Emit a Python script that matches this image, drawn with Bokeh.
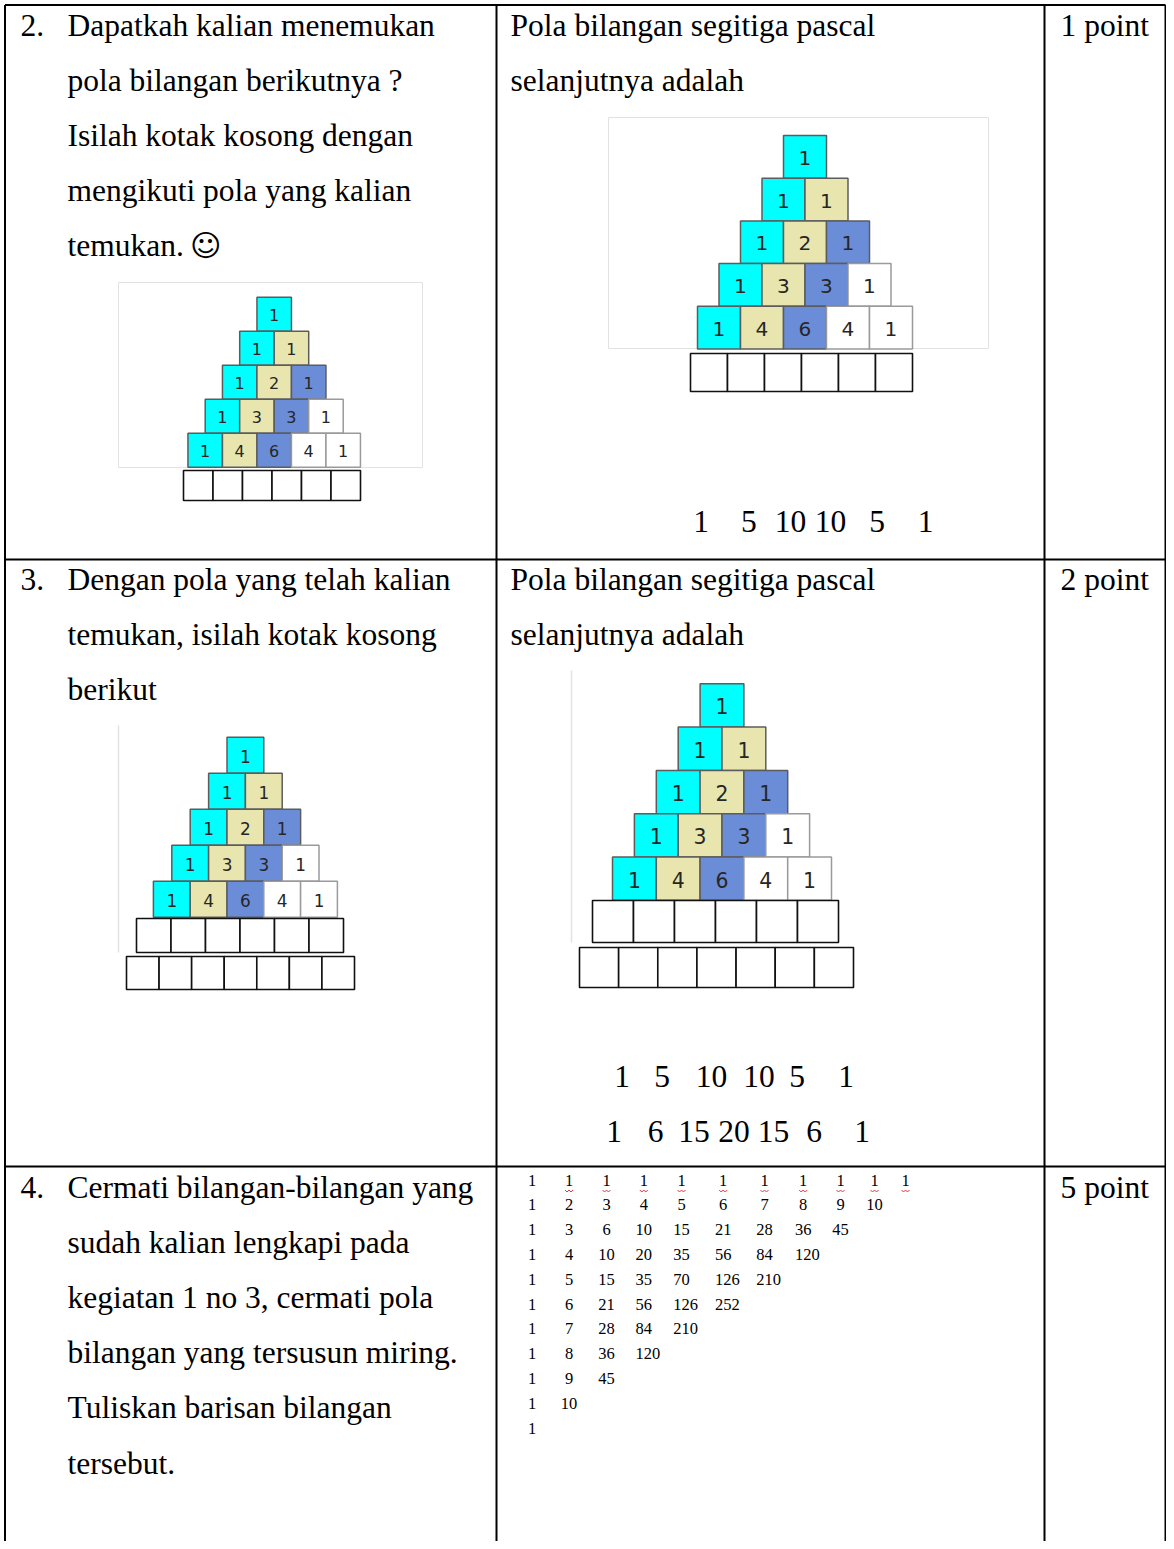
from bokeh.plotting import figure
from bokeh.models import Range1d, ColumnDataSource
from bokeh.core.properties import value
from bokeh.embed import file_html
from bokeh.resources import INLINE

# ---------------- data ----------------
question_numbers = ["2.", "3.", "4."]
question_lines = [
    ["Dapatkah kalian menemukan", "pola bilangan berikutnya ?",
     "Isilah kotak kosong dengan", "mengikuti pola yang kalian", "temukan."],
    ["Dengan pola yang telah kalian", "temukan, isilah kotak kosong", "berikut"],
    ["Cermati bilangan-bilangan yang", "sudah kalian lengkapi pada",
     "kegiatan 1 no 3, cermati pola", "bilangan yang tersusun miring.",
     "Tuliskan barisan bilangan", "tersebut."],
]
answer_heading = ["Pola bilangan segitiga pascal", "selanjutnya adalah"]
point_labels = ["1 point", "2 point", "5 point"]
smiley = "\u263A"

pascal_rows = [[1], [1, 1], [1, 2, 1], [1, 3, 3, 1], [1, 4, 6, 4, 1]]
answer_row5 = [1, 5, 10, 10, 5, 1]
answer_row6 = [1, 6, 15, 20, 15, 6, 1]

diagonal_rows = [
    [1, 1, 1, 1, 1, 1, 1, 1, 1, 1, 1],
    [1, 2, 3, 4, 5, 6, 7, 8, 9, 10],
    [1, 3, 6, 10, 15, 21, 28, 36, 45],
    [1, 4, 10, 20, 35, 56, 84, 120],
    [1, 5, 15, 35, 70, 126, 210],
    [1, 6, 21, 56, 126, 252],
    [1, 7, 28, 84, 210],
    [1, 8, 36, 120],
    [1, 9, 45],
    [1, 10],
    [1],
]

cell_colors = ["#00FFFF", "#E8E6AE", "#6B8DD8", "#FFFFFF", "#FFFFFF"]

# ---------------- layout ----------------
W, H = 1166, 1541
p = figure(width=W, height=H, x_range=Range1d(0, W), y_range=Range1d(H, 0),
           x_axis_type=None, y_axis_type=None, output_backend="svg",
           toolbar_location=None, min_border=0)
p.outline_line_color = None
p.background_fill_color = "white"
p.border_fill_color = "white"

SERIF = value("Liberation Serif")
BODY_FS = "31.5px"
LINE_STEP = 55.2

col_lines = [4.5, 496, 1044, 1165]
row_tops = [4.5, 559, 1166]
p.segment(x0=col_lines, y0=[4.5] * 4, x1=col_lines, y1=[1560] * 4,
          line_color="black", line_width=2)
p.segment(x0=[4.5] * 3, y0=row_tops, x1=[1165] * 3, y1=row_tops,
          line_color="black", line_width=2)

first_line = [24.5, 578.5, 1186.5]
tx, ty, tt = [], [], []
for i, lines in enumerate(question_lines):
    tx.append(20); ty.append(first_line[i]); tt.append(question_numbers[i])
    for j, s in enumerate(lines):
        tx.append(67); ty.append(first_line[i] + j * LINE_STEP); tt.append(s)
    tx.append(1060); ty.append(first_line[i]); tt.append(point_labels[i])
for i in range(2):
    for j, s in enumerate(answer_heading):
        tx.append(510); ty.append(first_line[i] + j * LINE_STEP); tt.append(s)
p.text(x=tx, y=ty, text=tt, text_font=SERIF, text_font_size=BODY_FS,
       text_baseline="alphabetic", text_align="left", text_color="black")

# smiley after "temukan."
p.text(x=[205.5], y=[245], text=[smiley], text_font=value("DejaVu Sans"),
       text_font_size="30px", text_baseline="middle", text_align="center",
       text_color="black")

# answers
ans_sets = [
    (answer_row5, [700.7, 748.3, 790, 830, 876.7, 925], 520.5),
    (answer_row5, [621.7, 661.7, 711.0, 758.5, 796.7, 845.5], 1076),
    (answer_row6, [613.5, 655, 693.5, 733.5, 773, 813.5, 861.5], 1131),
]
ax, ay, at = [], [], []
for vals, xs, yb in ans_sets:
    for v, x in zip(vals, xs):
        ax.append(x); ay.append(yb); at.append(str(v))
p.text(x=ax, y=ay, text=at, text_font=SERIF, text_font_size=BODY_FS,
       text_baseline="alphabetic", text_align="center", text_color="black")


def draw_frame(l, r, t, b, full):
    if full:
        p.quad(left=[l], right=[r], top=[t], bottom=[b], fill_color="white",
               line_color="#E2E2E2", line_width=1)
    else:
        p.segment(x0=[l], y0=[t], x1=[l], y1=[b], line_color="#E2E2E2", line_width=1.5)


def draw_pyramid(cx, top, cw, ch):
    L, R, T, B, F, LC = [], [], [], [], [], []
    nx, ny, nt = [], [], []
    for r, row in enumerate(pascal_rows):
        x0 = cx - len(row) * cw / 2
        for c, v in enumerate(row):
            L.append(x0 + c * cw); R.append(x0 + (c + 1) * cw)
            T.append(top + r * ch); B.append(top + (r + 1) * ch)
            F.append(cell_colors[c])
            LC.append("#5C5C5C" if c < 3 else "#9A9A9A")
            nx.append(x0 + (c + 0.5) * cw); ny.append(top + (r + 0.5) * ch + 1)
            nt.append(str(v))
    src = ColumnDataSource(dict(l=L, r=R, t=T, b=B, f=F, lc=LC))
    p.quad(left="l", right="r", top="t", bottom="b", fill_color="f",
           line_color="lc", line_width=1.5, source=src)
    p.text(x=nx, y=ny, text=nt, text_font=value("DejaVu Sans"),
           text_font_size="%.1fpx" % (ch * 0.47), text_baseline="middle",
           text_align="center", text_color="#262626")


def draw_blank_row(x0, x1, y0, y1, n):
    w = (x1 - x0) / n
    p.quad(left=[x0 + k * w for k in range(n)], right=[x0 + (k + 1) * w for k in range(n)],
           top=[y0] * n, bottom=[y1] * n, fill_color="white",
           line_color="#111111", line_width=1.6)


# pyramid 1 (question 2)
draw_frame(118, 422, 282, 467, True)
draw_pyramid(273.7, 296.7, 34.5, 34.0)
draw_blank_row(183, 360, 470, 500, 6)

# pyramid 2 (answer 2)
draw_frame(608, 988, 117, 348, True)
draw_pyramid(804.5, 135, 43, 42.7)
draw_blank_row(690, 912, 353, 391, 6)

# pyramid 3 (question 3)
draw_frame(118, None, 725, 952, False)
draw_pyramid(244.9, 736.7, 36.8, 36)
draw_blank_row(136, 343, 918, 952, 6)
draw_blank_row(126, 354, 956, 989, 7)

# pyramid 4 (answer 3)
draw_frame(571, None, 670, 942, False)
draw_pyramid(721.5, 683.3, 43.8, 43.3)
draw_blank_row(592, 838, 900, 942, 6)
draw_blank_row(579, 853, 947, 987, 7)

# diagonal table (answer 4)
col_centers = [531.7, 568.5, 606, 643.3, 681, 722.7, 764, 802.7, 840, 874, 905]
TBL_FS = 16.5
dx1, dy1, dt1 = [], [], []
dx2, dy2, dt2 = [], [], []
for r, row in enumerate(diagonal_rows):
    yb = 1179.5 + r * 24.8
    for c, v in enumerate(row):
        s = str(v)
        if len(s) == 1:
            dx1.append(col_centers[c]); dy1.append(yb); dt1.append(s)
        else:
            dx2.append(col_centers[c] - TBL_FS / 2); dy2.append(yb); dt2.append(s)
p.text(x=dx1, y=dy1, text=dt1, text_font=SERIF, text_font_size="%.1fpx" % TBL_FS,
       text_baseline="alphabetic", text_align="center", text_color="black")
p.text(x=dx2, y=dy2, text=dt2, text_font=SERIF, text_font_size="%.1fpx" % TBL_FS,
       text_baseline="alphabetic", text_align="left", text_color="black")

# spell-check squiggles under the first row (columns 2..11)
xs_sq, ys_sq = [], []
for c in range(1, len(diagonal_rows[0])):
    cxq = col_centers[c]
    xs_sq.append([cxq - 4 + k * 2 for k in range(5)])
    ys_sq.append([1189.5 + (k % 2) * 2 for k in range(5)])
p.multi_line(xs=xs_sq, ys=ys_sq, line_color="#E23A3A", line_width=1)

open("out.html", "w").write(file_html(p, INLINE))
